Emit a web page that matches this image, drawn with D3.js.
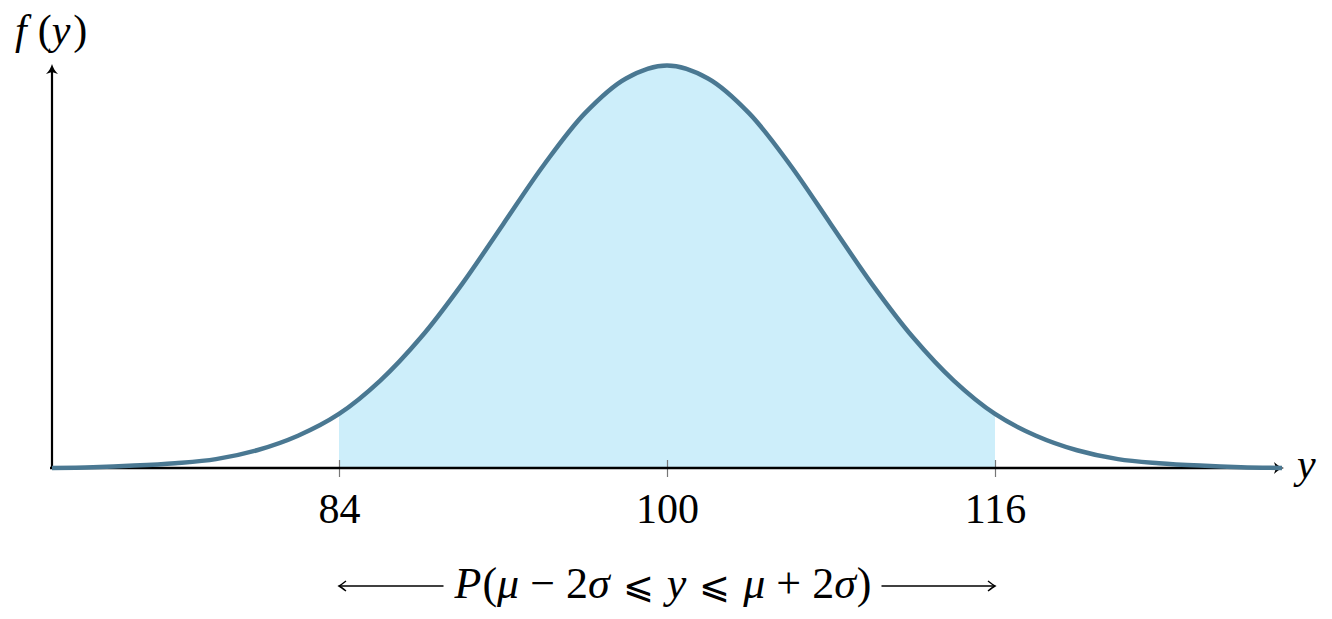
<!DOCTYPE html>
<html>
<head>
<meta charset="utf-8">
<script src="https://cdn.jsdelivr.net/npm/d3@7"></script>
<style>
  body { margin: 0; background: #fff; }
  svg text { font-family: "Liberation Serif", "Times New Roman", serif; fill: #000; }
</style>
</head>
<body>
<script>
// values (mu = 100, sigma = 8)
const xs = [70, 72, 74, 76, 78, 80, 82, 84, 86, 88, 90, 92, 94, 96, 98, 100,
            102, 104, 106, 108, 110, 112, 114, 116, 118, 120, 122, 124, 126, 128, 130];
const density = [0.0000, 0.0001, 0.0003, 0.0006, 0.0011, 0.0022, 0.0040, 0.0067,
                 0.0108, 0.0162, 0.0228, 0.0302, 0.0376, 0.0440, 0.0483, 0.0499,
                 0.0483, 0.0440, 0.0376, 0.0302, 0.0228, 0.0162, 0.0108, 0.0067,
                 0.0040, 0.0022, 0.0011, 0.0006, 0.0003, 0.0001, 0.0000];
const tickVals = [84, 100, 116];
const shadeFrom = 84, shadeTo = 116;

const W = 1332, H = 619;
const svg = d3.select('body').append('svg')
  .attr('width', W).attr('height', H);

const x = d3.scaleLinear().domain([70, 130]).range([52, 1282]);
const y = d3.scaleLinear().domain([0, 0.0499]).range([468, 65.5]);

const pts = xs.map((v, i) => ({ x: v, y: density[i] }));
const shaded = pts.filter(d => d.x >= shadeFrom && d.x <= shadeTo);

// shaded area
svg.append('path')
  .datum(shaded)
  .attr('fill', '#cdeefa')
  .attr('d', d3.area().x(d => x(d.x)).y0(y(0)).y1(d => y(d.y)).curve(d3.curveCatmullRom));

// x axis ticks + labels
const xAxis = svg.append('g')
  .attr('transform', `translate(0,${y(0)})`)
  .call(d3.axisBottom(x).tickValues(tickVals).tickSize(9).tickPadding(16));
xAxis.attr('font-family', null).attr('font-size', null);
xAxis.select('.domain').remove();
xAxis.selectAll('.tick line').attr('y1', -8).attr('stroke', '#777').attr('stroke-width', 1.2);
xAxis.selectAll('.tick text').style('font-size', '42px');

// arrowhead, tip at 0,0 pointing right
const head = 'M0,0 C-4,1.2 -7,3 -10,6 L-8,0 L-10,-6 C-7,-3 -4,-1.2 0,0 Z';

// axis lines
svg.append('line').attr('x1', 50).attr('x2', 1278)
  .attr('y1', y(0)).attr('y2', y(0)).attr('stroke', '#000').attr('stroke-width', 2.4);
svg.append('path').attr('d', head)
  .attr('transform', `translate(1284,${y(0)})`).attr('fill', '#000');
svg.append('line').attr('x1', 52).attr('x2', 52)
  .attr('y1', y(0) + 1).attr('y2', 70).attr('stroke', '#000').attr('stroke-width', 2.2);
svg.append('path').attr('d', head)
  .attr('transform', 'translate(52,64) rotate(-90)').attr('fill', '#000');

// density curve
svg.append('path')
  .datum(pts)
  .attr('fill', 'none')
  .attr('stroke', '#4a7892')
  .attr('stroke-width', 4.5)
  .attr('d', d3.line().x(d => x(d.x)).y(d => y(d.y)).curve(d3.curveCatmullRom));

// axis labels
const fy = svg.append('text').attr('x', 15).attr('y', 44).style('font-size', '42px');
fy.append('tspan').style('font-style', 'italic').text('f');
fy.append('tspan').attr('dx', 11).text('(');
fy.append('tspan').style('font-style', 'italic').text('y');
fy.append('tspan').attr('dx', 3).text(')');

svg.append('text').attr('x', 1297).attr('y', 478)
  .style('font-size', '42px').style('font-style', 'italic').text('y');

// probability caption with arrows
const cap = svg.append('text')
  .attr('x', x(100) - 4).attr('y', 598)
  .attr('text-anchor', 'middle')
  .style('font-size', '44px');
// [text, italic, space before]
const parts = [
  ['P', true, 0], ['(', false, 1], ['μ', true, 0], ['−', false, 11], ['2', false, 11],
  ['σ', true, 0], ['⩽', false, 13], ['y', true, 13], ['⩽', false, 13], ['μ', true, 13],
  ['+', false, 11], ['2', false, 11], ['σ', true, 0], [')', false, 1]
];
parts.forEach(([t, it, dx]) => {
  const ts = cap.append('tspan').attr('dx', dx).style('font-style', it ? 'italic' : 'normal').text(t);
  if (t === '⩽') ts.style('font-family', '"DejaVu Serif", serif').style('font-size', '37px');
});
const bb = cap.node().getBBox();
const ay = 586;
const arrowStyle = g => g.attr('stroke', '#000').attr('stroke-width', 1.4).attr('fill', 'none');

svg.append('line').attr('x1', x(shadeFrom)).attr('x2', bb.x - 10)
  .attr('y1', ay).attr('y2', ay).call(arrowStyle);
svg.append('path')
  .attr('d', `M${x(shadeFrom) + 7},${ay - 5} Q${x(shadeFrom) + 2},${ay - 1} ${x(shadeFrom)},${ay} Q${x(shadeFrom) + 2},${ay + 1} ${x(shadeFrom) + 7},${ay + 5}`)
  .call(arrowStyle);

svg.append('line').attr('x1', bb.x + bb.width + 10).attr('x2', x(shadeTo))
  .attr('y1', ay).attr('y2', ay).call(arrowStyle);
svg.append('path')
  .attr('d', `M${x(shadeTo) - 7},${ay - 5} Q${x(shadeTo) - 2},${ay - 1} ${x(shadeTo)},${ay} Q${x(shadeTo) - 2},${ay + 1} ${x(shadeTo) - 7},${ay + 5}`)
  .call(arrowStyle);
</script>
</body>
</html>
